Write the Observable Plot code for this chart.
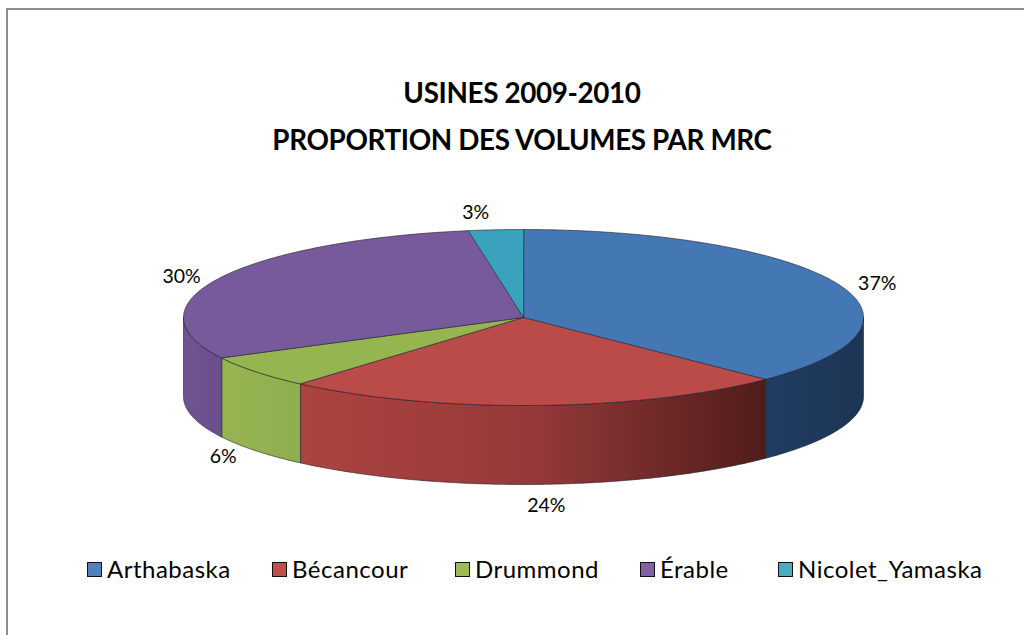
<!DOCTYPE html>
<html lang="fr">
<head>
<meta charset="utf-8">
<script src="https://cdn.jsdelivr.net/npm/d3@7"></script>
<script src="https://cdn.jsdelivr.net/npm/@observablehq/plot@0.6"></script>
<style>
  html, body { margin: 0; padding: 0; background: #fff; }
  #page { position: relative; width: 1024px; height: 635px; overflow: hidden; font-family: Lato, sans-serif; color: #000; }
  #frame { position: absolute; left: 6px; top: 8px; right: -5px; bottom: -5px; border: 2px solid #8f8f8f; }
  #title { position: absolute; left: 0; top: 69px; width: 1044px; text-align: center; font-weight: 700; font-size: 27.8px; line-height: 47px; letter-spacing: -0.35px; }
  #chart { position: absolute; left: 0; top: 195px; }
  #chart svg { display: block; overflow: visible; background: none; }
  #legend { position: absolute; top: 554px; left: 0; width: 1024px; height: 30px; font-size: 24px; line-height: 30px; letter-spacing: 0.5px; }
  .item { position: absolute; top: 0; display: flex; align-items: center; white-space: nowrap; }
  .sw { display: inline-block; width: 13px; height: 13px; border: 1.5px solid #111; margin-right: 5px; }
</style>
</head>
<body>
<div id="page">
  <div id="frame"></div>
  <div id="title"></div>
  <div id="chart"></div>
  <div id="legend"></div>
</div>
<script>
const titleLines = ["USINES 2009-2010", "PROPORTION DES VOLUMES PAR MRC"];
const categories = ["Arthabaska", "Bécancour", "Drummond", "Érable", "Nicolet_Yamaska"];
const shares = [37.4, 24.0, 6.0, 30.0, 2.6];
const percentLabels = ["37%", "24%", "6%", "30%", "3%"];
const topColors = ["#4478b5", "#ba4b48", "#95b551", "#775a9b", "#3ba2bd"];
const legendColors = ["#4f81bd", "#c0504d", "#9bbb59", "#8064a2", "#4bacc6"];
const wallStops = [["#1f3d63", "#1d3553"], ["#ab4440", "#96393a", "#4f1d1a"], ["#95b551", "#8fae4e"], ["#6f5492", "#6a4f8c"], ["#3ba2bd", "#3ba2bd"]];
const labelOffsets = [[40, 0], [10, 21], [-33, 6], [-38, -1], [-20, -17]];
const legendLeft = [87, 272, 455, 640, 778];

document.getElementById("title").innerHTML = titleLines.map(t => `<div>${t}</div>`).join("");
document.getElementById("legend").innerHTML = categories.map((c, i) =>
  `<span class="item" style="left:${legendLeft[i]}px"><span class="sw" style="background:${legendColors[i]}"></span>${c}</span>`).join("");

const width = 1024, height = 320;
const rx = 340, ry = 88, cx = 523, cy = 122, depth = 79 / ry;
const x = {type: "linear", domain: [-cx / rx, (width - cx) / rx], range: [0, width]};
const y = {type: "linear", domain: [(cy - height) / ry, cy / ry], range: [height, 0]};

const total = d3.sum(shares);
const cum = d3.cumsum(shares);
const slices = categories.map((name, i) => ({
  name, i,
  a0: (i ? cum[i - 1] : 0) / total * 2 * Math.PI,
  a1: cum[i] / total * 2 * Math.PI
}));
const rim = (a, drop = 0) => ({px: Math.sin(a), py: Math.cos(a) - drop});
const arc = (a0, a1, drop = 0) => {
  const n = Math.max(2, Math.ceil(Math.abs(a1 - a0) / 0.01));
  return d3.range(n + 1).map(k => rim(a0 + (a1 - a0) * k / n, drop));
};

const gradientDefs = () => {
  const ns = "http://www.w3.org/2000/svg";
  const defs = document.createElementNS(ns, "defs");
  wallStops.forEach((stops, i) => {
    const g = document.createElementNS(ns, "linearGradient");
    g.setAttribute("id", "wall" + i);
    stops.forEach((c, k) => {
      const s = document.createElementNS(ns, "stop");
      s.setAttribute("offset", k / (stops.length - 1));
      s.setAttribute("stop-color", c);
      g.appendChild(s);
    });
    defs.appendChild(g);
  });
  return defs;
};

const edge = {stroke: "#1c1c2a", strokeWidth: 0.8, strokeOpacity: 0.75, curve: "linear-closed"};
const marks = [gradientDefs];

// side walls: only the part of each slice on the front half of the disc
slices.forEach(s => {
  const a0 = Math.max(s.a0, Math.PI / 2), a1 = Math.min(s.a1, 3 * Math.PI / 2);
  if (a1 <= a0) return;
  const pts = [...arc(a0, a1, 0), ...arc(a1, a0, depth)];
  marks.push(Plot.line(pts, {x: "px", y: "py", fill: `url(#wall${s.i})`, ...edge}));
});
// top faces
slices.forEach(s => {
  const pts = [{px: 0, py: 0}, ...arc(s.a0, s.a1)];
  marks.push(Plot.line(pts, {x: "px", y: "py", fill: topColors[s.i], ...edge}));
});
// percentage labels, anchored on the rim at each slice's middle angle
slices.forEach(s => {
  const mid = (s.a0 + s.a1) / 2;
  const front = Math.cos(mid) < 0;
  const p = rim(mid, front ? depth : 0);
  marks.push(Plot.text([percentLabels[s.i]], {
    x: () => p.px, y: () => p.py, text: d => d,
    dx: labelOffsets[s.i][0], dy: labelOffsets[s.i][1],
    fontSize: 19.5, fill: "#000", fontFamily: "Lato, sans-serif"
  }));
});

const plot = Plot.plot({
  width, height,
  margin: 0,
  x: {...x, axis: null},
  y: {...y, axis: null},
  marks
});
document.getElementById("chart").appendChild(plot);
</script>
</body>
</html>
